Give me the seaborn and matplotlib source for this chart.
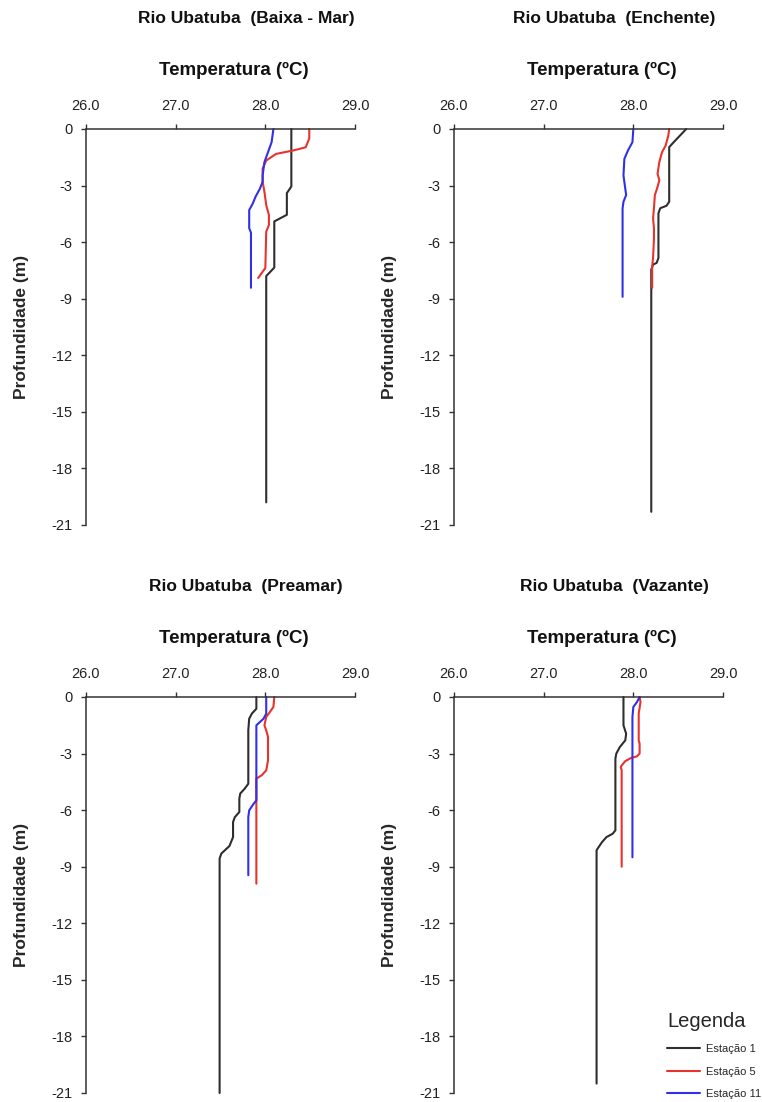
import matplotlib
matplotlib.use("Agg")
import matplotlib.pyplot as plt
import seaborn as sns
import pandas as pd

# --- Temperature profiles (depth in m, temperature in °C) ---
stations = ["Estação 1", "Estação 5", "Estação 11"]
tide_phases = ["Baixa - Mar", "Enchente", "Preamar", "Vazante"]

# Baixa - Mar
bm_e1_depth = [0, -3.05, -3.4, -4.55, -4.9, -7.35, -7.8, -19.8]
bm_e1_temp = [28.29, 28.29, 28.24, 28.24, 28.10, 28.10, 28.01, 28.01]
bm_e5_depth = [0, -0.5, -0.97, -1.14, -1.32, -1.67, -2.1, -2.8, -3.33, -4.04, -4.56, -5.09, -5.44, -7.37, -7.9]
bm_e5_temp = [28.49, 28.49, 28.45, 28.31, 28.12, 28.01, 27.97, 27.97, 27.99, 28.01, 28.04, 28.04, 28.01, 28.00, 27.92]
bm_e11_depth = [0, -0.7, -1.23, -1.75, -2.46, -2.8, -3.16, -3.6, -3.95, -4.3, -5.26, -5.5, -8.42]
bm_e11_temp = [28.09, 28.07, 28.03, 27.99, 27.97, 27.97, 27.94, 27.89, 27.86, 27.82, 27.82, 27.84, 27.84]

# Enchente
en_e1_depth = [0, -0.35, -0.7, -0.96, -3.86, -4.07, -4.2, -4.47, -6.84, -7.1, -7.19, -7.46, -20.3]
en_e1_temp = [28.59, 28.52, 28.45, 28.40, 28.40, 28.37, 28.30, 28.28, 28.28, 28.26, 28.22, 28.20, 28.20]
en_e5_depth = [0, -0.35, -0.88, -1.23, -1.75, -2.37, -2.72, -3.07, -3.51, -4.21, -4.74, -5.26, -5.79, -6.84, -7.28, -8.42]
en_e5_temp = [28.40, 28.39, 28.36, 28.32, 28.29, 28.27, 28.29, 28.27, 28.24, 28.23, 28.22, 28.23, 28.23, 28.22, 28.21, 28.21]
en_e11_depth = [0, -0.7, -1.14, -1.58, -2.46, -3.16, -3.5, -3.86, -4.21, -8.9]
en_e11_temp = [28.00, 27.99, 27.94, 27.90, 27.89, 27.91, 27.92, 27.89, 27.88, 27.88]

# Preamar
pm_e1_depth = [0, -0.62, -0.88, -1.15, -1.77, -4.6, -4.86, -5.12, -5.39, -6.1, -6.37, -6.63, -7.43, -7.9, -8.3, -8.56, -21.0]
pm_e1_temp = [27.90, 27.90, 27.85, 27.82, 27.81, 27.81, 27.77, 27.72, 27.71, 27.71, 27.66, 27.64, 27.64, 27.60, 27.51, 27.49, 27.49]
pm_e5_depth = [0, -0.53, -0.8, -1.06, -1.5, -1.77, -2.12, -3.36, -3.89, -4.15, -4.33, -9.9]
pm_e5_temp = [28.10, 28.09, 28.05, 28.01, 27.99, 28.01, 28.03, 28.03, 28.01, 27.96, 27.90, 27.90]
pm_e11_depth = [0, -0.88, -1.15, -1.5, -1.77, -5.48, -5.66, -6.01, -6.37, -9.45]
pm_e11_temp = [28.01, 28.01, 27.98, 27.90, 27.90, 27.90, 27.87, 27.82, 27.81, 27.81]

# Vazante
vz_e1_depth = [0, -1.5, -1.95, -2.3, -2.65, -3.0, -3.27, -7.07, -7.25, -7.43, -7.7, -8.05, -8.13, -20.5]
vz_e1_temp = [27.89, 27.89, 27.92, 27.91, 27.85, 27.81, 27.80, 27.80, 27.77, 27.70, 27.65, 27.60, 27.59, 27.59]
vz_e5_depth = [0, -0.27, -0.88, -2.3, -2.48, -3.0, -3.15, -3.22, -3.4, -3.63, -3.72, -3.89, -9.0]
vz_e5_temp = [28.07, 28.08, 28.06, 28.06, 28.07, 28.07, 28.04, 27.98, 27.91, 27.87, 27.86, 27.87, 27.87]
vz_e11_depth = [0, -0.27, -0.53, -1.06, -8.5]
vz_e11_temp = [28.07, 28.04, 28.00, 27.99, 27.99]

x_ticks = [26.0, 27.0, 28.0, 29.0]
y_ticks = [0, -3, -6, -9, -12, -15, -18, -21]

profiles = {
    "Baixa - Mar": [(bm_e1_depth, bm_e1_temp), (bm_e5_depth, bm_e5_temp), (bm_e11_depth, bm_e11_temp)],
    "Enchente": [(en_e1_depth, en_e1_temp), (en_e5_depth, en_e5_temp), (en_e11_depth, en_e11_temp)],
    "Preamar": [(pm_e1_depth, pm_e1_temp), (pm_e5_depth, pm_e5_temp), (pm_e11_depth, pm_e11_temp)],
    "Vazante": [(vz_e1_depth, vz_e1_temp), (vz_e5_depth, vz_e5_temp), (vz_e11_depth, vz_e11_temp)],
}

rows = []
for phase, series in profiles.items():
    for st, (d, t) in zip(stations, series):
        for i, (dd, tt) in enumerate(zip(d, t)):
            rows.append({"fase": phase, "estacao": st, "ordem": i, "prof": dd, "temp": tt})
df = pd.DataFrame(rows)

palette = {"Estação 1": "#2e2e2e", "Estação 5": "#e8332c", "Estação 11": "#3030e6"}

sns.set_theme(style="ticks")
plt.rcParams["font.family"] = ["Liberation Sans", "DejaVu Sans"]

W, H = 762, 1102
fig = plt.figure(figsize=(W / 100, H / 100), dpi=100)

# panel geometry in pixels: (left, top) of plotting area
AX_W, AX_H = 269, 396
panel_px = [(86, 129), (454, 129), (86, 697), (454, 697)]

axes = []
for k, (phase, (L, T)) in enumerate(zip(tide_phases, panel_px)):
    ax = fig.add_axes([L / W, 1 - (T + AX_H) / H, AX_W / W, AX_H / H])
    axes.append(ax)
    sub = df[df["fase"] == phase]
    sns.lineplot(data=sub, x="temp", y="prof", hue="estacao", units="estacao",
                 hue_order=stations, palette=palette, sort=False, estimator=None,
                 linewidth=1.5, ax=ax, legend=(k == 3))
    ax.set_xlim(26, 29)
    ax.set_ylim(-21, 0)
    ax.set_xticks(x_ticks)
    ax.set_xticklabels([f"{v:.1f}" for v in x_ticks])
    ax.set_yticks(y_ticks)
    ax.set_yticklabels([str(v) for v in y_ticks])
    ax.xaxis.tick_top()
    ax.set_xlabel("")
    ax.set_ylabel("Profundidade (m)", fontsize=12.5, fontweight="bold", labelpad=16)
    for side in ["bottom", "right"]:
        ax.spines[side].set_visible(False)
    for side in ["top", "left"]:
        ax.spines[side].set_linewidth(1.1)
        ax.spines[side].set_color("#333333")
    ax.tick_params(axis="x", which="both", direction="out", length=3.5, width=1.0,
                   color="#333333", labelsize=10.5, pad=8, labelcolor="#222222")
    ax.tick_params(axis="y", which="both", direction="out", length=3.5, width=1.0,
                   color="#333333", labelsize=10.5, pad=6, labelcolor="#222222")
    for ln in ax.lines:
        ln.set_clip_on(False)
    fig.text((L + 0.595 * AX_W) / W, 1 - (T - 110) / H, f"Rio Ubatuba  ({phase})",
             ha="center", va="center", fontsize=12.5, fontweight="bold", color="#111111")
    fig.text((L + 0.55 * AX_W) / W, 1 - (T - 59) / H, "Temperatura (ºC)",
             ha="center", va="center", fontsize=13.5, fontweight="bold", color="#111111")

sns.move_legend(axes[3], loc="upper left", bbox_to_anchor=(657 / W, 1 - 1002 / H),
                bbox_transform=fig.transFigure, title="Legenda", frameon=False,
                fontsize=8, title_fontsize=14.5, handlelength=3.0, handletextpad=0.5,
                labelspacing=1.15, alignment="left")

fig.savefig("out.png", dpi=100)
